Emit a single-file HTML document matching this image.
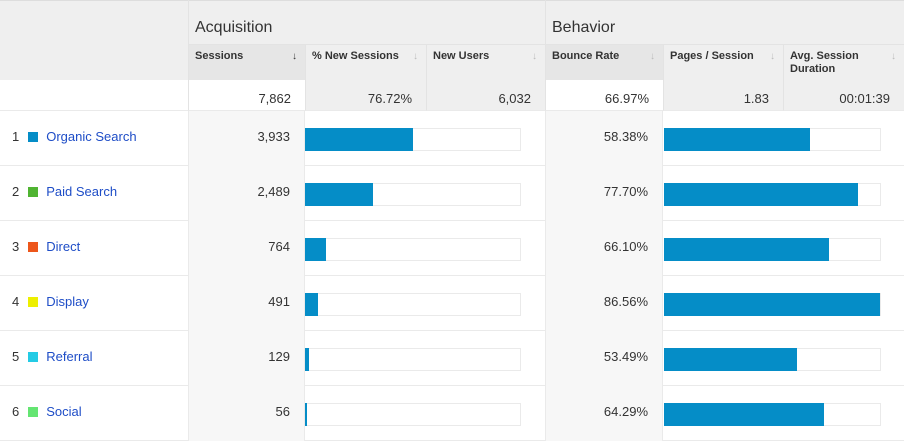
<!DOCTYPE html>
<html><head><meta charset="utf-8">
<style>
body{margin:0;width:904px;height:441px;overflow:hidden;background:#fff;font-family:"Liberation Sans",sans-serif;position:relative}
.a{position:absolute;box-sizing:border-box}
.h{font-size:11px;font-weight:bold;color:#333;padding:5px 6px;line-height:13px}
.arr{position:absolute;right:8px;top:5px;color:#bbb;font-size:10px}
.num{font-size:13px;color:#333;text-align:right;padding-right:14px}
</style></head><body>
<div id="root"></div>
<script>
const channels=["Organic Search","Paid Search","Direct","Display","Referral","Social"];
const colors=["#058dc7","#50b432","#ed561b","#edef00","#24cbe5","#64e572"];
const sessions=[3933,2489,764,491,129,56];
const bounce=[58.38,77.70,66.10,86.56,53.49,64.29];
const totalSessions=7862;
const totals=["7,862","76.72%","6,032","66.97%","1.83","00:01:39"];

const root=document.body;
function box(name,x,y,w,h,css,txt,inter){
 const d=document.createElement('div');d.className='a';
 
 
 d.style.cssText=`left:${x}px;top:${y}px;width:${w}px;height:${h}px;`+(css||'');
 if(txt!==undefined)d.innerHTML=txt;root.appendChild(d);return d;}
const G='#eaeaea';
// header background
box('header-bg',0,0,904,80,'background:#efefef;border-top:1px solid #ddd');
box('acquisition-group',188,0,357,45,'border-left:1px solid #e3e3e3;border-bottom:1px solid #e3e3e3;font-size:16px;color:#333;padding:19px 0 0 6px','Acquisition');
box('behavior-group',545,0,359,45,'border-left:1px solid #e3e3e3;border-bottom:1px solid #e3e3e3;font-size:16px;color:#333;padding:19px 0 0 6px','Behavior');
const cols=[[188,117,'Sessions',true],[305,121,'% New Sessions'],[426,119,'New Users'],[545,118,'Bounce Rate',true],[663,120,'Pages / Session'],[783,121,'Avg. Session<br>Duration']];
cols.forEach((c,i)=>{
 const d=box('column-header-'+i,c[0],45,c[1],35,'border-left:1px solid #e3e3e3;background:'+(c[3]?'#e6e6e6':'#efefef')+';cursor:pointer',undefined,true);
 d.className='a h';d.innerHTML=c[2]+`<span class="arr" style="color:${i==0?'#333':'#bbb'}">&#8595;</span>`;
});
// totals row
box('totals-label',0,80,188,31,'background:#fff;border-bottom:1px solid '+G);
cols.forEach((c,i)=>{
 const white=(i==0||i==3);
 const d=box('total-'+i,c[0],80,c[1],31,'border-left:1px solid #e3e3e3;border-bottom:1px solid '+G+';background:'+(white?'#fff':'#efefef')+';line-height:38px',totals[i]);
 d.className='a num';
});
const maxB=Math.max(...bounce);
const sx=v=>v/totalSessions*215;
const bx=v=>v/maxB*216;
channels.forEach((ch,i)=>{
 const y=111+i*55;
 const row=box('row-'+(i+1),0,y,904,55,'border-bottom:1px solid '+G);
 box('channel-label-'+(i+1),0,y,188,55,'font-size:13px;line-height:52px;padding-left:12px;color:#333',
 `${i+1}<span style="display:inline-block;width:10px;height:10px;background:${colors[i]};margin:0 8px 0 9px;vertical-align:-1px"></span><span style="color:#1e4dc7">${ch}</span>`,true);
 const s=box('sessions-'+(i+1),188,y,117,55,'background:#f7f7f7;border-left:1px solid '+G+';border-right:1px solid '+G+';line-height:52px',sessions[i].toLocaleString('en-US'));s.className='a num';
 box('sessions-bar-track-'+(i+1),305,y+17,216,23,'border:1px solid '+G+';background:#fff');
 box('sessions-bar-'+(i+1),305,y+17,sx(sessions[i]),23,'background:#058dc7');
 const b=box('bounce-'+(i+1),545,y,118,55,'background:#f7f7f7;border-left:1px solid '+G+';border-right:1px solid '+G+';line-height:52px',bounce[i].toFixed(2)+'%');b.className='a num';
 box('bounce-bar-track-'+(i+1),664,y+17,217,23,'border:1px solid '+G+';background:#fff');
 box('bounce-bar-'+(i+1),664,y+17,bx(bounce[i]),23,'background:#058dc7');
});
</script>
</body></html>
